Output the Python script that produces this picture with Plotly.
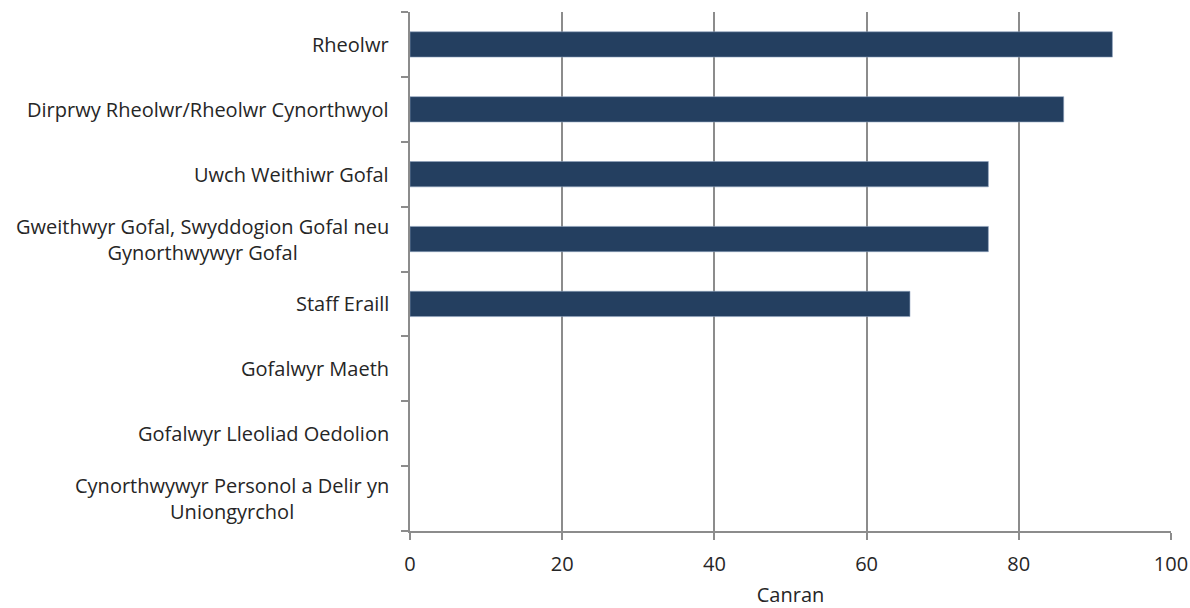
import plotly.graph_objects as go

categories = [
    "Rheolwr",
    "Dirprwy Rheolwr/Rheolwr Cynorthwyol",
    "Uwch Weithiwr Gofal",
    "Gweithwyr Gofal, Swyddogion Gofal neu<br>Gynorthwywyr Gofal",
    "Staff Eraill",
    "Gofalwyr Maeth",
    "Gofalwyr Lleoliad Oedolion",
    "Cynorthwywyr Personol a Delir yn<br>Uniongyrchol",
]
values = [92.3, 85.9, 76.0, 76.0, 65.7, None, None, None]
x_ticks = [0, 20, 40, 60, 80, 100]
x_title = "Canran"

FONT = "Open Sans, Noto Sans, sans-serif"
GRID = "#8c8c8c"
TXT = "#262626"
FS = 20

fig = go.Figure(
    go.Bar(
        x=values,
        y=list(range(len(categories))),
        orientation="h",
        marker=dict(color="#243f60", line=dict(color="#8ea3bd", width=0.6)),
        width=0.39,
    )
)

for i, c in enumerate(categories):
    fig.add_annotation(
        x=0, xref="paper", y=i, yref="y",
        text=c, showarrow=False, xanchor="right", yanchor="middle",
        align="center", xshift=-19,
        font=dict(family=FONT, size=FS, color=TXT),
    )

fig.update_layout(
    width=1190, height=608,
    margin=dict(l=410, r=19, t=12, b=77, autoexpand=False),
    plot_bgcolor="white", paper_bgcolor="white",
    showlegend=False,
    font=dict(family=FONT, size=FS, color=TXT),
    bargap=0.61,
)
fig.update_xaxes(
    range=[0, 100], tickvals=x_ticks, automargin=False,
    showgrid=True, gridcolor=GRID, gridwidth=2,
    showline=True, linecolor=GRID, linewidth=2,
    ticks="outside", ticklen=7, tickcolor=GRID, tickwidth=2,
    ticklabelstandoff=7,
    zeroline=False,
    title=dict(text=x_title, font=dict(family=FONT, size=FS, color=TXT), standoff=23),
    tickfont=dict(family=FONT, size=FS, color=TXT),
)
fig.update_yaxes(
    range=[len(categories) - 0.5, -0.5], automargin=False,
    tickmode="array", tickvals=list(range(len(categories))),
    ticktext=[""] * len(categories),
    showgrid=False, zeroline=False,
    showline=True, linecolor=GRID, linewidth=2,
    ticks="",
    minor=dict(tickvals=[i - 0.5 for i in range(len(categories) + 1)],
               ticks="outside", ticklen=7, tickcolor=GRID, tickwidth=2, showgrid=False),
)

fig.write_html(
    "out.html",
    config={"displayModeBar": False},
    post_script="document.body.style.margin='0';document.body.style.overflow='hidden';",
)
